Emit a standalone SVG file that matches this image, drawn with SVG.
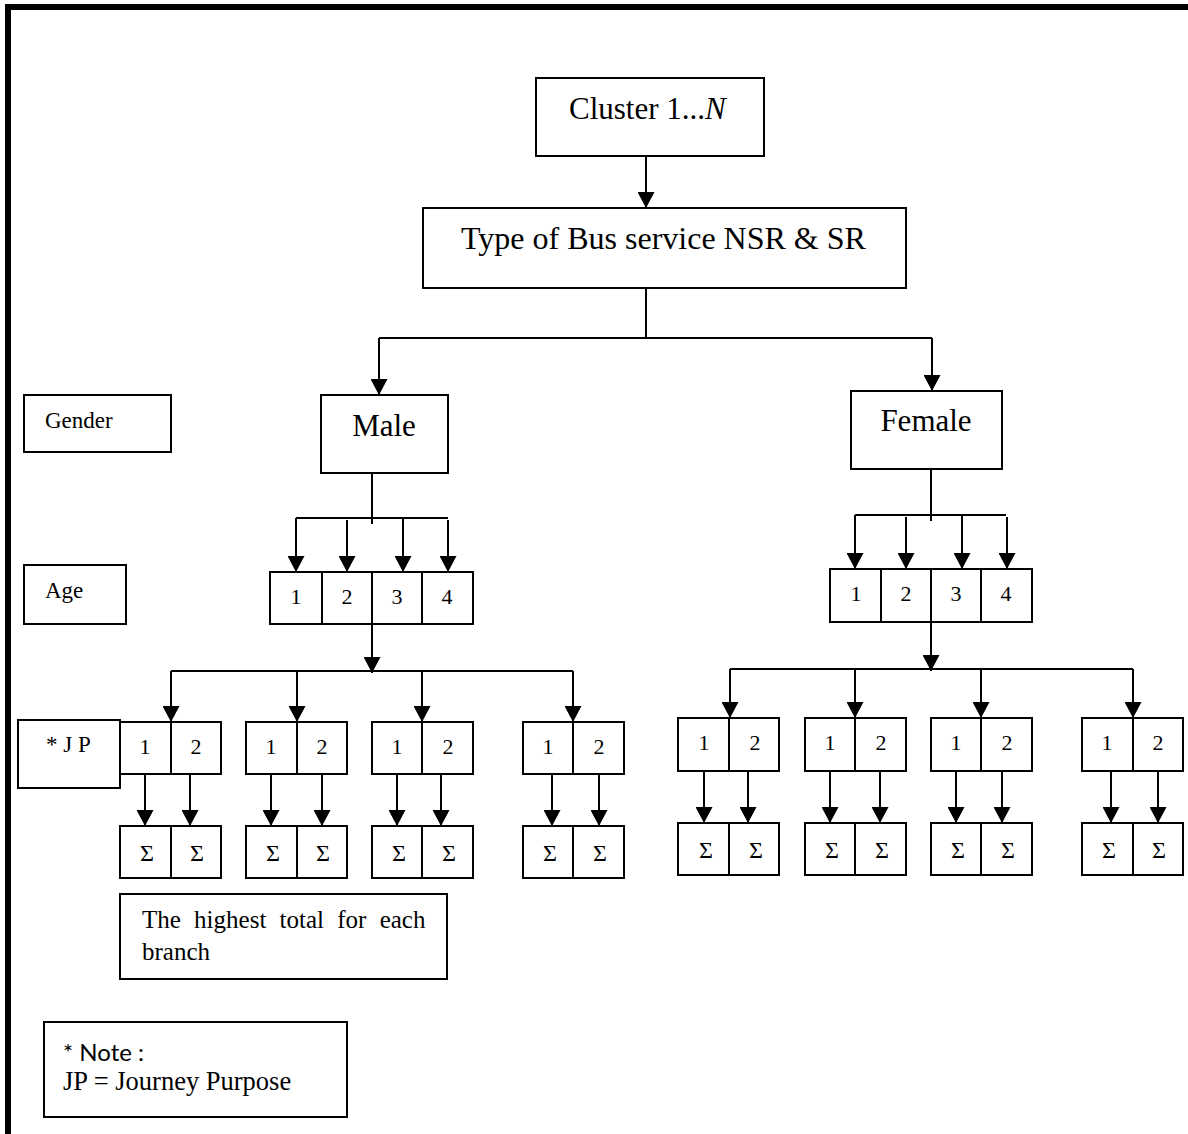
<svg xmlns="http://www.w3.org/2000/svg" width="1188" height="1134" viewBox="0 0 1188 1134">
<style>
.b{fill:#fff;stroke:#000;stroke-width:2}
.d{stroke:#000;stroke-width:2;fill:none}
.t{font-family:"Liberation Serif","Times New Roman",serif;fill:#000}
.big{font-size:31px}
.lab{font-size:23px}
.num{font-size:22px;text-anchor:middle}
.sig{font-size:24px;text-anchor:middle}
.c{text-anchor:middle}
.a{stroke:#000;stroke-width:2;fill:none;marker-end:url(#ah)}
</style>
<defs>
<marker id="ah" markerUnits="userSpaceOnUse" viewBox="0 0 16 17" refX="16" refY="8.5" markerWidth="16" markerHeight="17" orient="auto">
<path d="M0,0 L16,8.5 L0,17 z" fill="#000"/>
</marker>
</defs>
<rect width="1188" height="1134" fill="#fff"/>
<g id="frame">
<rect x="5" y="4" width="1183" height="6" fill="#000"/>
<rect x="5" y="4" width="6" height="1130" fill="#000"/>
</g>
<g id="connectors">
<line class="a" x1="646" y1="156" x2="646" y2="208"/>
<polyline class="d" points="646,288 646,338"/>
<line class="d" x1="379" y1="338" x2="932" y2="338"/>
<line class="a" x1="379" y1="338" x2="379" y2="395"/>
<line class="a" x1="932" y1="338" x2="932" y2="391"/>
<line class="d" x1="372" y1="473" x2="372" y2="524"/>
<line class="d" x1="296" y1="518" x2="448" y2="518"/>
<line class="a" x1="296" y1="518" x2="296" y2="572"/>
<line class="a" x1="347" y1="520" x2="347" y2="572"/>
<line class="a" x1="403" y1="518" x2="403" y2="572"/>
<line class="a" x1="448" y1="520" x2="448" y2="572"/>
<line class="a" x1="372" y1="624" x2="372" y2="673"/>
<line class="d" x1="171" y1="671" x2="573" y2="671"/>
<line class="a" x1="171" y1="671" x2="171" y2="722"/>
<line class="a" x1="297" y1="671" x2="297" y2="722"/>
<line class="a" x1="422" y1="671" x2="422" y2="722"/>
<line class="a" x1="573" y1="671" x2="573" y2="722"/>
<line class="a" x1="145" y1="774" x2="145" y2="826"/>
<line class="a" x1="190" y1="774" x2="190" y2="826"/>
<line class="a" x1="271" y1="774" x2="271" y2="826"/>
<line class="a" x1="322" y1="774" x2="322" y2="826"/>
<line class="a" x1="397" y1="774" x2="397" y2="826"/>
<line class="a" x1="441" y1="774" x2="441" y2="826"/>
<line class="a" x1="552" y1="774" x2="552" y2="826"/>
<line class="a" x1="599" y1="774" x2="599" y2="826"/>
<line class="d" x1="931" y1="469" x2="931" y2="521"/>
<line class="d" x1="855" y1="515" x2="1006" y2="515"/>
<line class="a" x1="855" y1="515" x2="855" y2="569"/>
<line class="a" x1="906" y1="517" x2="906" y2="569"/>
<line class="a" x1="962" y1="515" x2="962" y2="569"/>
<line class="a" x1="1007" y1="517" x2="1007" y2="569"/>
<line class="a" x1="931" y1="622" x2="931" y2="671"/>
<line class="d" x1="730" y1="669" x2="1133" y2="669"/>
<line class="a" x1="730" y1="669" x2="730" y2="718"/>
<line class="a" x1="855" y1="669" x2="855" y2="718"/>
<line class="a" x1="981" y1="669" x2="981" y2="718"/>
<line class="a" x1="1133" y1="669" x2="1133" y2="718"/>
<line class="a" x1="704" y1="771" x2="704" y2="823"/>
<line class="a" x1="748" y1="771" x2="748" y2="823"/>
<line class="a" x1="830" y1="771" x2="830" y2="823"/>
<line class="a" x1="880" y1="771" x2="880" y2="823"/>
<line class="a" x1="956" y1="771" x2="956" y2="823"/>
<line class="a" x1="1002" y1="771" x2="1002" y2="823"/>
<line class="a" x1="1111" y1="771" x2="1111" y2="823"/>
<line class="a" x1="1158" y1="771" x2="1158" y2="823"/>
</g>
<g id="cluster">
<rect class="b" x="536" y="78" width="228" height="78"/>
<text class="t big" x="569" y="119">Cluster 1...<tspan font-style="italic">N</tspan></text>
</g>
<g id="bus-type">
<rect class="b" x="423" y="208" width="483" height="80"/>
<text class="t" x="461" y="249" font-size="32">Type of Bus service NSR &amp; SR</text>
</g>
<g id="gender-label">
<rect class="b" x="24" y="395" width="147" height="57"/>
<text class="t lab" x="45" y="428">Gender</text>
</g>
<g id="male">
<rect class="b" x="321" y="395" width="127" height="78"/>
<text class="t big c" x="384" y="436">Male</text>
</g>
<g id="female">
<rect class="b" x="851" y="391" width="151" height="78"/>
<text class="t big c" x="926" y="431">Female</text>
</g>
<g id="age-label">
<rect class="b" x="24" y="565" width="102" height="59"/>
<text class="t lab" x="45" y="598">Age</text>
</g>
<g id="male-age">
<rect class="b" x="270" y="572" width="203" height="52"/>
<line class="d" x1="322" y1="572" x2="322" y2="624"/>
<line class="d" x1="372" y1="572" x2="372" y2="624"/>
<line class="d" x1="422" y1="572" x2="422" y2="624"/>
<text class="t num" x="296" y="604">1</text>
<text class="t num" x="347" y="604">2</text>
<text class="t num" x="397" y="604">3</text>
<text class="t num" x="447" y="604">4</text>
</g>
<g id="female-age">
<rect class="b" x="830" y="569" width="202" height="53"/>
<line class="d" x1="881" y1="569" x2="881" y2="622"/>
<line class="d" x1="931" y1="569" x2="931" y2="622"/>
<line class="d" x1="981" y1="569" x2="981" y2="622"/>
<text class="t num" x="856" y="601">1</text>
<text class="t num" x="906" y="601">2</text>
<text class="t num" x="956" y="601">3</text>
<text class="t num" x="1006" y="601">4</text>
</g>
<g id="jp-label">
<rect class="b" x="18" y="720" width="102" height="68"/>
<text class="t lab" x="46" y="752">* J P</text>
</g>
<g id="male-jp-1">
<rect class="b" x="120" y="722" width="101" height="52"/>
<line class="d" x1="171" y1="722" x2="171" y2="774"/>
<text class="t num" x="145" y="754">1</text><text class="t num" x="196" y="754">2</text>
</g>
<g id="male-jp-2">
<rect class="b" x="246" y="722" width="101" height="52"/>
<line class="d" x1="297" y1="722" x2="297" y2="774"/>
<text class="t num" x="271" y="754">1</text><text class="t num" x="322" y="754">2</text>
</g>
<g id="male-jp-3">
<rect class="b" x="372" y="722" width="101" height="52"/>
<line class="d" x1="422" y1="722" x2="422" y2="774"/>
<text class="t num" x="397" y="754">1</text><text class="t num" x="448" y="754">2</text>
</g>
<g id="male-jp-4">
<rect class="b" x="523" y="722" width="101" height="52"/>
<line class="d" x1="573" y1="722" x2="573" y2="774"/>
<text class="t num" x="548" y="754">1</text><text class="t num" x="599" y="754">2</text>
</g>
<g id="male-sum-1">
<rect class="b" x="120" y="826" width="101" height="52"/>
<line class="d" x1="171" y1="826" x2="171" y2="878"/>
<text class="t sig" x="147" y="861">Σ</text><text class="t sig" x="197" y="861">Σ</text>
</g>
<g id="male-sum-2">
<rect class="b" x="246" y="826" width="101" height="52"/>
<line class="d" x1="297" y1="826" x2="297" y2="878"/>
<text class="t sig" x="273" y="861">Σ</text><text class="t sig" x="323" y="861">Σ</text>
</g>
<g id="male-sum-3">
<rect class="b" x="372" y="826" width="101" height="52"/>
<line class="d" x1="422" y1="826" x2="422" y2="878"/>
<text class="t sig" x="399" y="861">Σ</text><text class="t sig" x="449" y="861">Σ</text>
</g>
<g id="male-sum-4">
<rect class="b" x="523" y="826" width="101" height="52"/>
<line class="d" x1="573" y1="826" x2="573" y2="878"/>
<text class="t sig" x="550" y="861">Σ</text><text class="t sig" x="600" y="861">Σ</text>
</g>
<g id="female-jp-1">
<rect class="b" x="678" y="718" width="101" height="53"/>
<line class="d" x1="729" y1="718" x2="729" y2="771"/>
<text class="t num" x="704" y="750">1</text><text class="t num" x="755" y="750">2</text>
</g>
<g id="female-jp-2">
<rect class="b" x="805" y="718" width="101" height="53"/>
<line class="d" x1="855" y1="718" x2="855" y2="771"/>
<text class="t num" x="830" y="750">1</text><text class="t num" x="881" y="750">2</text>
</g>
<g id="female-jp-3">
<rect class="b" x="931" y="718" width="101" height="53"/>
<line class="d" x1="981" y1="718" x2="981" y2="771"/>
<text class="t num" x="956" y="750">1</text><text class="t num" x="1007" y="750">2</text>
</g>
<g id="female-jp-4">
<rect class="b" x="1082" y="718" width="101" height="53"/>
<line class="d" x1="1133" y1="718" x2="1133" y2="771"/>
<text class="t num" x="1107" y="750">1</text><text class="t num" x="1158" y="750">2</text>
</g>
<g id="female-sum-1">
<rect class="b" x="678" y="823" width="101" height="52"/>
<line class="d" x1="729" y1="823" x2="729" y2="875"/>
<text class="t sig" x="706" y="858">Σ</text><text class="t sig" x="756" y="858">Σ</text>
</g>
<g id="female-sum-2">
<rect class="b" x="805" y="823" width="101" height="52"/>
<line class="d" x1="855" y1="823" x2="855" y2="875"/>
<text class="t sig" x="832" y="858">Σ</text><text class="t sig" x="882" y="858">Σ</text>
</g>
<g id="female-sum-3">
<rect class="b" x="931" y="823" width="101" height="52"/>
<line class="d" x1="981" y1="823" x2="981" y2="875"/>
<text class="t sig" x="958" y="858">Σ</text><text class="t sig" x="1008" y="858">Σ</text>
</g>
<g id="female-sum-4">
<rect class="b" x="1082" y="823" width="101" height="52"/>
<line class="d" x1="1133" y1="823" x2="1133" y2="875"/>
<text class="t sig" x="1109" y="858">Σ</text><text class="t sig" x="1159" y="858">Σ</text>
</g>
<g id="highest">
<rect class="b" x="120" y="894" width="327" height="85"/>
<text class="t" x="142" y="928" font-size="25" word-spacing="7">The highest total for each</text>
<text class="t" x="142" y="960" font-size="25">branch</text>
</g>
<g id="note">
<rect class="b" x="44" y="1022" width="303" height="95"/>
<text x="63" y="1061" font-family="Lato,'Noto Sans',sans-serif" font-size="24" fill="#000">* Note :</text>
<text class="t" x="63" y="1090" font-size="26.5">JP = Journey Purpose</text>
</g>
</svg>
